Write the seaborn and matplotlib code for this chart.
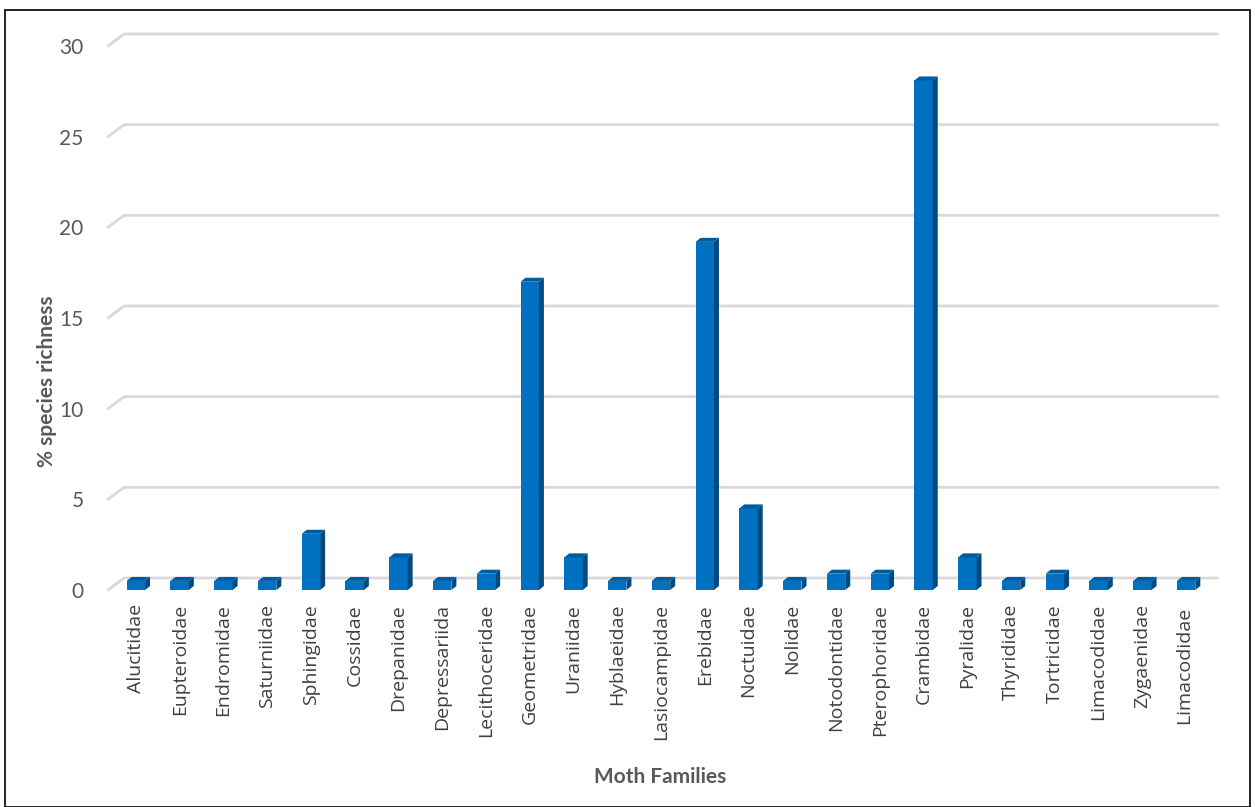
import numpy as np
import pandas as pd
import matplotlib
matplotlib.use("Agg")
import matplotlib.pyplot as plt
import seaborn as sns
from matplotlib.patches import Polygon, Rectangle
from matplotlib.lines import Line2D
from matplotlib.transforms import IdentityTransform

families = ["Alucitidae", "Eupteroidae", "Endromidae", "Saturniidae", "Sphingidae",
            "Cossidae", "Drepanidae", "Depressariida", "Lecithoceridae", "Geometridae",
            "Uraniidae", "Hyblaeidae", "Lasiocampidae", "Erebidae", "Noctuidae",
            "Nolidae", "Notodontidae", "Pterophoridae", "Crambidae", "Pyralidae",
            "Thyrididae", "Tortricidae", "Limacodidae", "Zygaenidae", "Limacodidae "]
richness = [0.5, 0.5, 0.5, 0.5, 3.1,
            0.5, 1.8, 0.5, 0.9, 17.0,
            1.8, 0.5, 0.5, 19.2, 4.5,
            0.5, 0.9, 0.9, 28.1, 1.8,
            0.5, 0.9, 0.5, 0.5, 0.5]
yticks = [0, 5, 10, 15, 20, 25, 30]

sns.set_theme(style="white")
plt.rcParams['font.family'] = ['Lato', 'DejaVu Sans']

W, H = 1255, 807
fig = plt.figure(figsize=(W / 100, H / 100), dpi=100)
left_px, right_px, bot_px, top_px = 114, 1208, 590, 46
ax = fig.add_axes([left_px / W, 1 - bot_px / H, (right_px - left_px) / W, (bot_px - top_px) / H])
ax.set_facecolor("none")

df = pd.DataFrame({"family": families, "richness": richness})
FRONT = "#0070C0"
SIDE = "#004A80"
TOP = "#005C9E"
sns.barplot(data=df, x="family", y="richness", color=FRONT, width=0.42,
            saturation=1, ax=ax, zorder=3, edgecolor="none")
ax.set_xlim(-0.5, len(families) - 0.5)
ax.set_ylim(0, 30)
ax.set_yticks(yticks)
ax.set_yticklabels([str(v) for v in yticks])
ax.set_xticks(range(len(families)))
ax.set_xticklabels(families, rotation=90, fontsize=14,
                   fontfamily=["Open Sans", "DejaVu Sans"], color="#404040")

for s in ax.spines.values():
    s.set_visible(False)
ax.grid(False)
ax.tick_params(axis="y", length=0, pad=22, labelsize=15, labelcolor="#595959")
ax.tick_params(axis="x", length=0, pad=10)

# 3D-look gridlines (back wall)
tr = ax.transData
GX_F, GX_B, GY = -6, 10, 12
for v in yticks:
    y0 = tr.transform((0, v))[1]
    x_front = left_px + GX_F
    x_back = left_px + GX_B
    x_end = right_px + GX_B
    fig.add_artist(Line2D([x_front, x_back, x_end], [y0, y0 + GY, y0 + GY],
                          transform=IdentityTransform(), color="#D9D9D9", lw=2, zorder=0))

# 3D bar side and top faces
DX, DY = 5, 4
for p in ax.patches:
    x0, y0b = p.get_x(), p.get_y()
    w, h = p.get_width(), p.get_height()
    (ax0, ay0) = tr.transform((x0, y0b))
    (ax1, ay1) = tr.transform((x0 + w, y0b + h))
    side = Polygon([[ax1, ay0], [ax1 + DX, ay0 + DY], [ax1 + DX, ay1 + DY], [ax1, ay1]],
                   closed=True, transform=IdentityTransform(), facecolor=SIDE,
                   edgecolor="none", zorder=4)
    top = Polygon([[ax0, ay1], [ax0 + DX, ay1 + DY], [ax1 + DX, ay1 + DY], [ax1, ay1]],
                  closed=True, transform=IdentityTransform(), facecolor=TOP,
                  edgecolor="none", zorder=4)
    fig.add_artist(side)
    fig.add_artist(top)

ax.set_xlabel("Moth Families", fontsize=15, fontweight="bold", color="#595959")
ax.set_ylabel("% species richness", fontsize=15, fontweight="bold", color="#595959")
ax.xaxis.set_label_coords(0.499, -0.325)
ax.yaxis.set_label_coords(-0.052, 0.384)

fig.add_artist(Rectangle((5 / W, 0), (W - 10) / W, 1 - 10 / H, transform=fig.transFigure,
                         fill=False, edgecolor="#000000", lw=1.2))

fig.savefig("out.png", dpi=100)
